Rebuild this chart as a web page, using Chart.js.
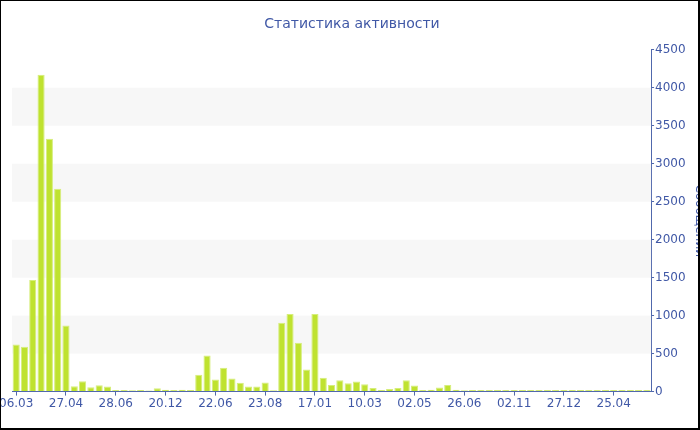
<!DOCTYPE html>
<html>
<head>
<meta charset="utf-8">
<script src="https://cdn.jsdelivr.net/npm/chart.js@4"></script>
<style>
    html, body { margin: 0; padding: 0; background: #fff; }
    #frame { position: absolute; left: 0; top: 0; width: 700px; height: 430px; overflow: hidden; background: #fff; }
    #chart { position: absolute; left: -2px; top: 0; }
    #border {
        position: absolute; left: 0; top: 0; width: 700px; height: 430px;
        box-sizing: border-box; border-style: solid; border-color: #000;
        border-width: 1px 2px 2px 1px; pointer-events: none;
    }
</style>
</head>
<body>
<div id="frame">
    <canvas id="chart" width="708" height="430"></canvas>
    <div id="border"></div>
</div>
<script>
// Подписи под осью X (каждый 6-й столбец)
const tickLabels = ['06.03', '27.04', '28.06', '20.12', '22.06', '23.08', '17.01',
    '10.03', '02.05', '26.06', '02.11', '27.12', '25.04'];

// Количество сообщений по периодам
const messages = [
    620, 590, 1470, 4170, 3330, 2670, 870, 70, 135, 57, 84, 66,
    22, 22, 18, 20, 15, 44, 26, 22, 26, 22, 221, 476,
    159, 313, 172, 115, 66, 66, 119, 18, 905, 1023, 644, 291,
    1023, 181, 88, 150, 110, 132, 97, 49, 22, 35, 49, 150,
    80, 22, 26, 53, 88, 26, 18, 20, 20, 20, 20, 20,
    20, 20, 20, 20, 20, 20, 20, 20, 20, 20, 20, 20,
    20, 20, 20, 20, 20
];

const categories = messages.map((v, i) => (i % 6 === 0 ? tickLabels[i / 6] : ''));

const textColor = '#4058a6';
const axisColor = '#5068ac';
const fontFamily = '"DejaVu Sans", Verdana, sans-serif';

/**
 * Светлые полосы между делениями оси Y
 */
const bandPlugin = {
    id: 'bands',
    beforeDatasetsDraw(chart) {
        const { ctx, chartArea, scales: { y } } = chart;
        ctx.save();
        ctx.fillStyle = '#f7f7f7';
        for (let v = 500; v < 4500; v += 1000) {
            const top = y.getPixelForValue(v + 500);
            const bottom = y.getPixelForValue(v);
            ctx.fillRect(chartArea.left, top, chartArea.right - chartArea.left, bottom - top);
        }
        ctx.restore();
    }
};

new Chart(document.getElementById('chart').getContext('2d'), {
    type: 'bar',
    data: {
        labels: categories,
        datasets: [{
            data: messages,
            backgroundColor: '#bfe22f',
            borderColor: '#d6ee7c',
            borderWidth: 1,
            barPercentage: 0.86,
            categoryPercentage: 1
        }]
    },
    options: {
        responsive: false,
        animation: false,
        layout: { padding: { left: 0, right: 0, top: 0, bottom: 18 } },
        plugins: {
            legend: { display: false },
            tooltip: { enabled: false },
            title: {
                display: true,
                text: 'Статистика активности',
                color: textColor,
                font: { family: fontFamily, size: 14, weight: 'normal' },
                padding: { top: 16, bottom: 17 }
            }
        },
        scales: {
            x: {
                offset: true,
                grid: {
                    offset: false,
                    drawOnChartArea: false,
                    tickLength: 4,
                    color: (ctx) => (ctx.tick && ctx.tick.label ? axisColor : 'rgba(0,0,0,0)')
                },
                border: { color: axisColor, width: 1 },
                ticks: {
                    autoSkip: false,
                    maxRotation: 0,
                    minRotation: 0,
                    padding: 1,
                    color: textColor,
                    font: { family: fontFamily, size: 12 }
                }
            },
            y: {
                position: 'right',
                min: 0,
                max: 4500,
                grid: { drawOnChartArea: false, tickLength: 3, color: axisColor },
                border: { color: axisColor, width: 1 },
                ticks: {
                    stepSize: 500,
                    padding: 1,
                    color: textColor,
                    font: { family: fontFamily, size: 12 },
                    callback: (value) => String(value)
                },
                title: {
                    display: true,
                    text: 'Сообщений',
                    color: textColor,
                    font: { family: fontFamily, size: 12 },
                    padding: { top: 0, bottom: 5 }
                }
            }
        }
    },
    plugins: [bandPlugin]
});
</script>
</body>
</html>
